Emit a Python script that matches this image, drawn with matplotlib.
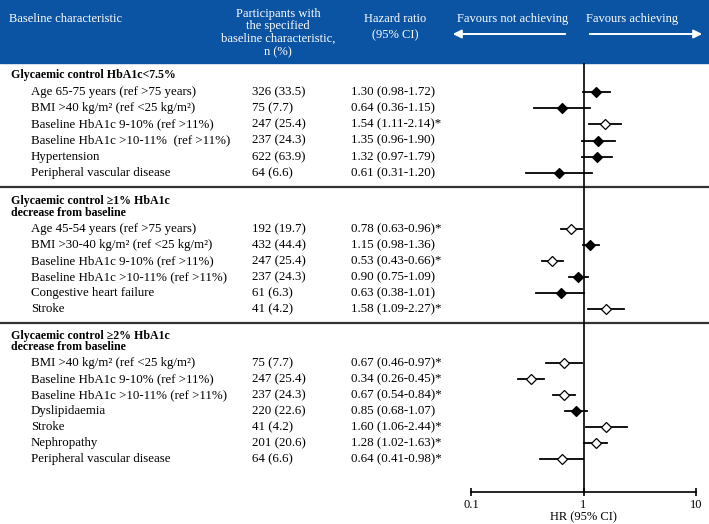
import matplotlib.pyplot as plt
from matplotlib.patches import Rectangle

plt.rcParams['font.family'] = ['Liberation Serif', 'DejaVu Serif']

# section titles (one list entry per printed line)
sections = [
    ["Glycaemic control HbA1c<7.5%"],
    ["Glycaemic control \u22651% HbA1c", "decrease from baseline"],
    ["Glycaemic control \u22652% HbA1c", "decrease from baseline"],
]

# rows of each section
labels_1 = ["Age 65-75 years (ref >75 years)",
            "BMI >40 kg/m\u00b2 (ref <25 kg/m\u00b2)",
            "Baseline HbA1c 9-10% (ref >11%)",
            "Baseline HbA1c >10-11%  (ref >11%)",
            "Hypertension",
            "Peripheral vascular disease"]
n_1 = ["326 (33.5)", "75 (7.7)", "247 (25.4)", "237 (24.3)", "622 (63.9)", "64 (6.6)"]
hr_1 = [1.30, 0.64, 1.54, 1.35, 1.32, 0.61]
lo_1 = [0.98, 0.36, 1.11, 0.96, 0.97, 0.31]
hi_1 = [1.72, 1.15, 2.14, 1.90, 1.79, 1.20]

labels_2 = ["Age 45-54 years (ref >75 years)",
            "BMI >30-40 kg/m\u00b2 (ref <25 kg/m\u00b2)",
            "Baseline HbA1c 9-10% (ref >11%)",
            "Baseline HbA1c >10-11% (ref >11%)",
            "Congestive heart failure",
            "Stroke"]
n_2 = ["192 (19.7)", "432 (44.4)", "247 (25.4)", "237 (24.3)", "61 (6.3)", "41 (4.2)"]
hr_2 = [0.78, 1.15, 0.53, 0.90, 0.63, 1.58]
lo_2 = [0.63, 0.98, 0.43, 0.75, 0.38, 1.09]
hi_2 = [0.96, 1.36, 0.66, 1.09, 1.01, 2.27]

labels_3 = ["BMI >40 kg/m\u00b2 (ref <25 kg/m\u00b2)",
            "Baseline HbA1c 9-10% (ref >11%)",
            "Baseline HbA1c >10-11% (ref >11%)",
            "Dyslipidaemia",
            "Stroke",
            "Nephropathy",
            "Peripheral vascular disease"]
n_3 = ["75 (7.7)", "247 (25.4)", "237 (24.3)", "220 (22.6)", "41 (4.2)", "201 (20.6)", "64 (6.6)"]
hr_3 = [0.67, 0.34, 0.67, 0.85, 1.60, 1.28, 0.64]
lo_3 = [0.46, 0.26, 0.54, 0.68, 1.06, 1.02, 0.41]
hi_3 = [0.97, 0.45, 0.84, 1.07, 2.44, 1.63, 0.98]

xticks = [0.1, 1, 10]
xtick_labels = ["0.1", "1", "10"]

blue = '#0b53a3'
W, H = 709, 524
body = 9.3

fig = plt.figure(figsize=(W / 100, H / 100), dpi=100)
bg = fig.add_axes([0, 0, 1, 1])
bg.set_xlim(0, W)
bg.set_ylim(H, 0)
bg.axis('off')

# header band
bg.add_patch(Rectangle((0, 0), W, 63, color=blue, zorder=0))
hdr = dict(color='white', fontsize=9, va='center')
bg.text(9, 19, "Baseline characteristic", ha='left', **hdr)
for y, s in zip([14, 26.5, 39, 52], ["Participants with", "the specified",
                                    "baseline characteristic,", "n (%)"]):
    bg.text(278, y, s, ha='center', **hdr)
bg.text(395, 19, "Hazard ratio", ha='center', **hdr)
bg.text(395, 35, "(95% CI)", ha='center', **hdr)
bg.text(513, 19, "Favours not achieving", ha='center', **hdr)
bg.text(632, 19, "Favours achieving", ha='center', **hdr)
arr = dict(arrowstyle='-|>,head_length=0.5,head_width=0.25', color='white', lw=1.4)
bg.annotate("", xy=(450, 34), xytext=(568, 34), arrowprops=arr)
bg.annotate("", xy=(705, 34), xytext=(587, 34), arrowprops=arr)

# separators
for y in [187, 323]:
    bg.plot([0, W], [y, y], color='#333333', lw=1.6)

# forest axes in the same vertical pixel units
fa = fig.add_axes([471 / W, (H - 492) / H, 225 / W, (492 - 63) / H])
fa.set_xscale('log')
fa.set_xlim(0.1, 10)
fa.set_ylim(492, 63)
fa.patch.set_alpha(0)
for s in ['top', 'right', 'left']:
    fa.spines[s].set_visible(False)
fa.spines['bottom'].set_linewidth(1.2)
fa.set_xticks(xticks)
fa.set_xticklabels(xtick_labels, fontsize=9)
fa.minorticks_off()
fa.tick_params(axis='x', direction='inout', length=6, width=1.2, pad=2)
fa.set_yticks([])
fa.set_xlabel("HR (95% CI)", fontsize=9, labelpad=0)
fa.axvline(1, color='black', lw=1.2)

# layout: first header line y, first row y, row step
layout = [(75, 92, 16.2), (201, 229, 16.0), (336, 363, 16.0)]
data = [(labels_1, n_1, hr_1, lo_1, hi_1),
        (labels_2, n_2, hr_2, lo_2, hi_2),
        (labels_3, n_3, hr_3, lo_3, hi_3)]

for title, (hy, y0, step), (labs, ns, hrs, los, his) in zip(sections, layout, data):
    for j, line in enumerate(title):
        bg.text(11, hy + j * 11.5, line, fontsize=8.6, fontweight='bold',
                va='center', ha='left')
    for i in range(len(labs)):
        y = y0 + i * step
        sig = los[i] > 1 or his[i] < 1
        bg.text(31, y, labs[i], fontsize=body, va='center', ha='left')
        bg.text(252, y, ns[i], fontsize=body, va='center', ha='left')
        txt = f"{hrs[i]:.2f} ({los[i]:.2f}-{his[i]:.2f})" + ("*" if sig else "")
        bg.text(351, y, txt, fontsize=body, va='center', ha='left')
        fa.plot([los[i], his[i]], [y, y], color='black', lw=1.3, zorder=2)
        fa.plot(hrs[i], y, marker='D', ms=4.6, mec='black', mew=0.9,
                mfc='white' if sig else 'black', zorder=3)

fig.savefig('out.png', dpi=100)
